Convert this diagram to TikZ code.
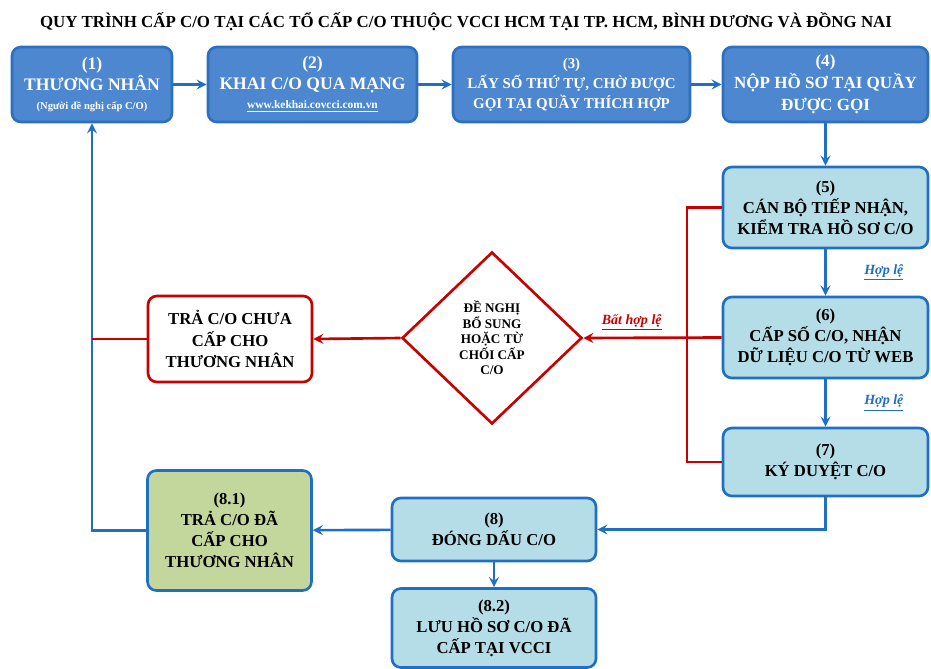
\documentclass[tikz,border=0pt]{standalone}
\usepackage{fontspec}
\setmainfont{Liberation Serif}
\usepackage{xcolor}
\usetikzlibrary{shapes,arrows,positioning,calc}

\definecolor{topfill}{HTML}{4C87CF}
\definecolor{topline}{HTML}{2E6FC0}
\definecolor{procfill}{HTML}{B5DDE8}
\definecolor{flowblue}{HTML}{1F6FC4}
\definecolor{okfill}{HTML}{C3D69B}
\definecolor{flowred}{HTML}{C80000}

\begin{document}
\begin{tikzpicture}[x=0.02cm, y=-0.02cm,
    topbox/.style={rectangle, draw=topline, fill=topfill, line width=1.5pt, rounded corners=5pt, text=white, font=\bfseries, align=center, minimum height=1.5cm},
    procbox/.style={rectangle, draw=flowblue, fill=procfill, line width=1.5pt, rounded corners=5pt, font=\bfseries\fontsize{9.5}{12}\selectfont, align=center, minimum width=4.1cm},
    rejbox/.style={rectangle, draw=flowred, fill=white, line width=1.5pt, rounded corners=5pt, font=\bfseries\fontsize{9.5}{12}\selectfont, align=center, minimum width=3.28cm},
    decision/.style={diamond, draw=flowred, fill=white, line width=1.5pt, font=\bfseries\fontsize{7.5}{8.8}\selectfont, align=center, inner sep=0pt, minimum width=3.6cm, minimum height=3.44cm},
    arrow/.style={->, >=stealth, line width=1.5pt, draw=flowblue},
    redarrow/.style={->, >=stealth, line width=1.5pt, draw=flowred},
    redline/.style={line width=1.5pt, draw=flowred},
    oklabel/.style={font=\bfseries\itshape\fontsize{8}{10}\selectfont, text=flowblue}
]
\useasboundingbox (0,0) rectangle (931,669);

% Title
\node[font=\bfseries\fontsize{9.6}{12}\selectfont] (title) at (466,22) {QUY TRÌNH CẤP C/O TẠI CÁC TỔ CẤP C/O THUỘC VCCI HCM TẠI TP. HCM, BÌNH DƯƠNG VÀ ĐỒNG NAI};

% Top row
\node[topbox, minimum width=3.2cm] (trader) at (92,84.5) {{\fontsize{10}{12.5}\selectfont (1)}\\{\fontsize{10}{12.5}\selectfont THƯƠNG NHÂN}\\[-1pt]{\fontsize{6}{8}\selectfont (Người đề nghị cấp C/O)}};
\node[topbox, minimum width=4.18cm] (online) at (312.5,84.5) {{\fontsize{10}{12.5}\selectfont (2)}\\{\fontsize{10}{12.5}\selectfont KHAI C/O QUA MẠNG}\\[-1pt]{\fontsize{6.5}{8}\selectfont \underline{www.kekhai.covcci.com.vn}}};
\node[topbox, minimum width=4.74cm, font=\bfseries\fontsize{8.5}{11.5}\selectfont] (queue) at (571.5,84.5) {(3)\\LẤY SỐ THỨ TỰ, CHỜ ĐƯỢC\\GỌI TẠI QUẦY THÍCH HỢP};
\node[topbox, minimum width=4.1cm, font=\bfseries\fontsize{9.7}{12.5}\selectfont] (submit) at (825.5,84.5) {(4)\\NỘP HỒ SƠ TẠI QUẦY\\ĐƯỢC GỌI};

% Right column
\node[procbox, minimum height=1.62cm] (check) at (825.5,207.5) {(5)\\CÁN BỘ TIẾP NHẬN,\\KIỂM TRA HỒ SƠ C/O};
\node[procbox, minimum height=1.62cm] (issue) at (825.5,337.5) {(6)\\CẤP SỐ C/O, NHẬN\\DỮ LIỆU C/O TỪ WEB};
\node[procbox, minimum height=1.36cm] (sign) at (825.5,462) {(7)\\KÝ DUYỆT C/O};

% Bottom
\node[procbox, minimum width=4.08cm, minimum height=1.26cm] (stamp) at (494,529.5) {(8)\\ĐÓNG DẤU C/O};
\node[procbox, minimum width=4.08cm, minimum height=1.58cm] (archive) at (494,628) {(8.2)\\LƯU HỒ SƠ C/O ĐÃ\\CẤP TẠI VCCI};
\node[procbox, fill=okfill, minimum width=3.28cm, minimum height=2.4cm] (deliver) at (229.5,530.5) {(8.1)\\TRẢ C/O ĐÃ\\CẤP CHO\\THƯƠNG NHÂN};

% Rejection branch
\node[decision] (review) at (492,338) {ĐỀ NGHỊ\\BỔ SUNG\\HOẶC TỪ\\CHỐI CẤP\\C/O};
\node[rejbox, minimum height=1.72cm] (reject) at (230,339) {TRẢ C/O CHƯA\\CẤP CHO\\THƯƠNG NHÂN};
\coordinate (redjoin) at (687,338);

% Arrows
\draw[arrow] (trader) -- (online);
\draw[arrow] (online) -- (queue);
\draw[arrow] (queue) -- (submit);
\draw[arrow] (submit) -- (check);
\draw[arrow] (check) -- (issue) node[midway, right=18pt, oklabel] {\underline{Hợp lệ}};
\draw[arrow] (issue) -- (sign) node[midway, right=18pt, oklabel] {\underline{Hợp lệ}};
\draw[arrow] (sign.south) |- (stamp.east);
\draw[arrow] (stamp) -- (deliver);
\draw[arrow] (stamp) -- (archive);
\draw[arrow] (deliver.west) -| (trader.south);
\draw[redline] (check.west) -| (redjoin) |- (sign.west);
\draw[redarrow] (issue.west) -- (review.east) node[pos=0.65, above, font=\bfseries\itshape\fontsize{8}{10}\selectfont, text=flowred] {\underline{Bất hợp lệ}};
\draw[redarrow] (review.west) -- (reject.east);
\draw[redline] (reject.west) -- (reject.west -| trader.south);

\end{tikzpicture}
\end{document}
